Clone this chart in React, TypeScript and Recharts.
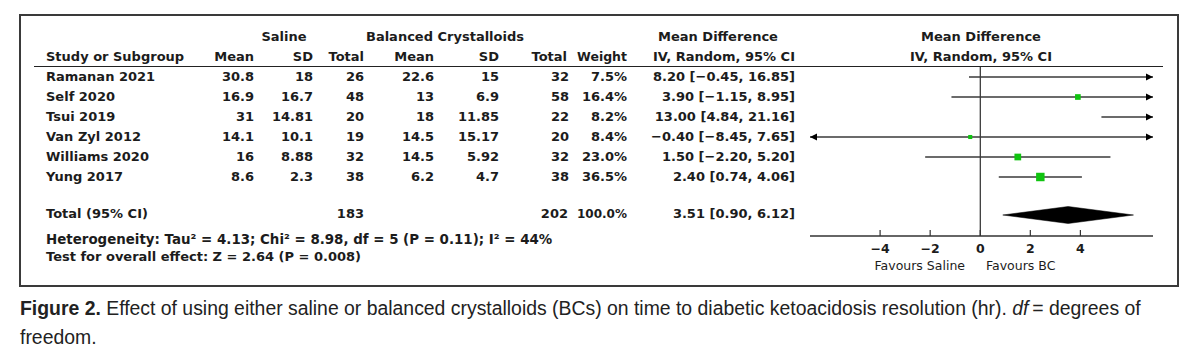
import React from "react";
import {
  ComposedChart,
  XAxis,
  YAxis,
  Scatter,
  ReferenceLine,
  ReferenceDot,
} from "recharts";

const studies = ["Ramanan 2021", "Self 2020", "Tsui 2019", "Van Zyl 2012", "Williams 2020", "Yung 2017"];
const salineMean = [30.8, 16.9, 31, 14.1, 16, 8.6];
const salineSD = [18, 16.7, 14.81, 10.1, 8.88, 2.3];
const salineTotal = [26, 48, 20, 19, 32, 38];
const bcMean = [22.6, 13, 18, 14.5, 14.5, 6.2];
const bcSD = [15, 6.9, 11.85, 15.17, 5.92, 4.7];
const bcTotal = [32, 58, 22, 20, 32, 38];
const weights = [7.5, 16.4, 8.2, 8.4, 23.0, 36.5];
const meanDiff = [8.2, 3.9, 13.0, -0.4, 1.5, 2.4];
const ciLow = [-0.45, -1.15, 4.84, -8.45, -2.2, 0.74];
const ciHigh = [16.85, 8.95, 21.16, 7.65, 5.2, 4.06];

const totalSaline = 183;
const totalBC = 202;
const totalWeight = 100.0;
const pooled = [0.9, 3.51, 6.12];
const TOTAL_ROW = 6.9;

const xTicks = [-4, -2, 0, 2, 4];
const X_MIN = -6.8;
const X_MAX = 6.9;

const FONT = '"DejaVu Sans", Verdana, sans-serif';
const INK = "#1c1c1c";

const num = (n: number) => n.toFixed(2).replace("-", "\u2212");
const ciText = (m: number, lo: number, hi: number) => `${num(m)} [${num(lo)}, ${num(hi)}]`;

const rowY = (i: number) => 77 + 20 * i;

const squares = meanDiff
  .map((m, i) => ({ x: m, y: i, w: weights[i] }))
  .filter((d) => d.x >= X_MIN && d.x <= X_MAX);

const diamond = pooled.map((x) => ({ x, y: TOTAL_ROW }));

const clamp = (v: number) => Math.max(X_MIN, Math.min(X_MAX, v));

const cell = (text: string, right: number, y: number, extra: React.CSSProperties = {}) => (
  <div
    style={{
      position: "absolute",
      right: 1200 - right,
      top: y - 8,
      lineHeight: "16px",
      whiteSpace: "nowrap",
      ...extra,
    }}
  >
    {text}
  </div>
);

const Square = (props: any) => {
  const { cx, cy, payload } = props;
  const s = 1.4 * Math.sqrt(payload.w);
  return <rect x={cx - s / 2} y={cy - s / 2} width={s} height={s} fill="#10c410" />;
};

const DiamondLine = (props: any) => {
  const p = props.points;
  if (!p || p.length < 3) return <g />;
  const cy = p[1].y;
  const d = `M${p[0].x},${cy} L${p[1].x},${cy - 8.5} L${p[2].x},${cy} L${p[1].x},${cy + 8.5} Z`;
  return <path d={d} fill="#000" stroke="#000" strokeWidth={0.5} />;
};

const arrowShape = (dir: number) => (props: any) => {
  const { cx, cy } = props;
  const d = `M${cx},${cy} L${cx - dir * 7},${cy - 3.5} L${cx - dir * 7},${cy + 3.5} Z`;
  return <path d={d} fill="#000" />;
};

const AxisTick = (props: any) => {
  const { x, y, payload } = props;
  const v = payload.value as number;
  return (
    <g>
      <line x1={x} x2={x} y1={y - 6} y2={y} stroke="#333" strokeWidth={1.2} />
      <text
        x={x}
        y={y + 16.5}
        textAnchor="middle"
        fontFamily={FONT}
        fontWeight="bold"
        fontSize={12.5}
        fill={INK}
      >
        {v < 0 ? `\u2212${Math.abs(v)}` : String(v)}
      </text>
    </g>
  );
};

export default function App() {
  const head: React.CSSProperties = { fontWeight: 600, fontSize: 13 };
  const data: React.CSSProperties = { fontWeight: "bold", fontSize: 13 };
  return (
    <div
      style={{
        position: "absolute",
        left: 0,
        top: 0,
        width: 1200,
        height: 355,
        background: "#fff",
        fontFamily: FONT,
        color: INK,
      }}
    >
      <div
        style={{
          position: "absolute",
          left: 19,
          top: 14,
          width: 1160,
          height: 273,
          border: "2px solid #3a3a3a",
          boxSizing: "border-box",
        }}
      />
      <div style={{ position: "absolute", left: 34, top: 66, width: 1129, height: 1, background: "#222" }} />

      {/* group headers */}
      <div style={{ position: "absolute", left: 234, width: 100, top: 29, textAlign: "center", lineHeight: "16px", ...head }}>Saline</div>
      <div style={{ position: "absolute", left: 345, width: 200, top: 29, textAlign: "center", lineHeight: "16px", ...head }}>Balanced Crystalloids</div>
      <div style={{ position: "absolute", left: 618, width: 200, top: 29, textAlign: "center", lineHeight: "16px", ...head }}>Mean Difference</div>
      <div style={{ position: "absolute", left: 881, width: 200, top: 29, textAlign: "center", lineHeight: "16px", ...head }}>Mean Difference</div>
      <div style={{ position: "absolute", left: 881, width: 200, top: 49, textAlign: "center", lineHeight: "16px", ...head }}>IV, Random, 95% CI</div>

      {/* column headers */}
      <div style={{ position: "absolute", left: 46, top: 49, lineHeight: "16px", ...head }}>Study or Subgroup</div>
      {cell("Mean", 254, 57, head)}
      {cell("SD", 313, 57, head)}
      {cell("Total", 364, 57, head)}
      {cell("Mean", 434, 57, head)}
      {cell("SD", 499, 57, head)}
      {cell("Total", 567, 57, head)}
      {cell("Weight", 627, 57, { ...head, fontSize: 12.5 })}
      {cell("IV, Random, 95% CI", 795, 57, head)}

      {studies.map((s, i) => (
        <React.Fragment key={s}>
          <div style={{ position: "absolute", left: 46, top: rowY(i) - 8, lineHeight: "16px", ...data }}>{s}</div>
          {cell(String(salineMean[i]), 254, rowY(i), data)}
          {cell(String(salineSD[i]), 313, rowY(i), data)}
          {cell(String(salineTotal[i]), 364, rowY(i), data)}
          {cell(String(bcMean[i]), 434, rowY(i), data)}
          {cell(String(bcSD[i]), 499, rowY(i), data)}
          {cell(String(bcTotal[i]), 569, rowY(i), data)}
          {cell(`${weights[i].toFixed(1)}%`, 627, rowY(i), data)}
          {cell(ciText(meanDiff[i], ciLow[i], ciHigh[i]), 795, rowY(i), data)}
        </React.Fragment>
      ))}

      <div style={{ position: "absolute", left: 46, top: 206, lineHeight: "16px", ...head }}>Total (95% CI)</div>
      {cell(String(totalSaline), 364, 214, head)}
      {cell(String(totalBC), 568, 214, head)}
      {cell(`${totalWeight.toFixed(1)}%`, 627, 214, { ...head, fontSize: 12 })}
      {cell(ciText(pooled[1], pooled[0], pooled[2]), 795, 214, head)}
      <div style={{ position: "absolute", left: 46, top: 232, lineHeight: "16px", whiteSpace: "nowrap", fontWeight: 600, fontSize: 13.4 }}>
        Heterogeneity: Tau² = 4.13; Chi² = 8.98, df = 5 (P = 0.11); I² = 44%
      </div>
      <div style={{ position: "absolute", left: 46, top: 249, lineHeight: "16px", whiteSpace: "nowrap", fontWeight: 600, fontSize: 13 }}>
        Test for overall effect: Z = 2.64 (P = 0.008)
      </div>

      <div style={{ position: "absolute", right: 1200 - 965, top: 258, lineHeight: "16px", fontSize: 12.5 }}>Favours Saline</div>
      <div style={{ position: "absolute", left: 986, top: 258, lineHeight: "16px", fontSize: 12.5 }}>Favours BC</div>

      <div style={{ position: "absolute", left: 0, top: 0 }}>
        <ComposedChart width={1200} height={300} margin={{ top: 67, right: 47, bottom: 34, left: 810 }}>
          <XAxis
            type="number"
            dataKey="x"
            domain={[X_MIN, X_MAX]}
            ticks={xTicks}
            allowDataOverflow
            height={30}
            tickSize={0}
            tickMargin={0}
            tickLine={false}
            axisLine={{ stroke: "#333", strokeWidth: 1.5 }}
            tick={<AxisTick />}
          />
          <YAxis type="number" dataKey="y" domain={[-0.5, 7.95]} reversed hide width={0} allowDataOverflow />
          <ReferenceLine x={0} stroke="#000" strokeWidth={1} />
          {studies.map((s, i) => (
            <ReferenceLine
              key={`ci-${s}`}
              segment={[
                { x: clamp(ciLow[i]), y: i },
                { x: clamp(ciHigh[i]), y: i },
              ]}
              stroke="#3a3a3a"
              strokeWidth={1.5}
              ifOverflow="visible"
            />
          ))}
          {studies.map((s, i) =>
            ciHigh[i] > X_MAX ? (
              <ReferenceDot key={`ar-${s}`} x={X_MAX} y={i} ifOverflow="visible" shape={arrowShape(1)} />
            ) : null
          )}
          {studies.map((s, i) =>
            ciLow[i] < X_MIN ? (
              <ReferenceDot key={`al-${s}`} x={X_MIN} y={i} ifOverflow="visible" shape={arrowShape(-1)} />
            ) : null
          )}
          <Scatter data={squares} shape={Square} isAnimationActive={false} />
          <Scatter
            data={diamond}
            line={DiamondLine}
            lineType="joint"
            shape={() => <g />}
            isAnimationActive={false}
          />
        </ComposedChart>
      </div>

      <div
        style={{
          position: "absolute",
          left: 20,
          top: 294,
          width: 1170,
          fontFamily: '"Liberation Sans", Arial, sans-serif',
          fontSize: 19.4,
          lineHeight: "29px",
          color: "#222",
        }}
      >
        <div style={{ whiteSpace: "nowrap" }}>
          <b>Figure 2.</b> Effect of using either saline or balanced crystalloids (BCs) on time to diabetic ketoacidosis
          resolution (hr). <i>df</i>{"\u2009= "}degrees of
        </div>
        <div>freedom.</div>
      </div>
    </div>
  );
}
